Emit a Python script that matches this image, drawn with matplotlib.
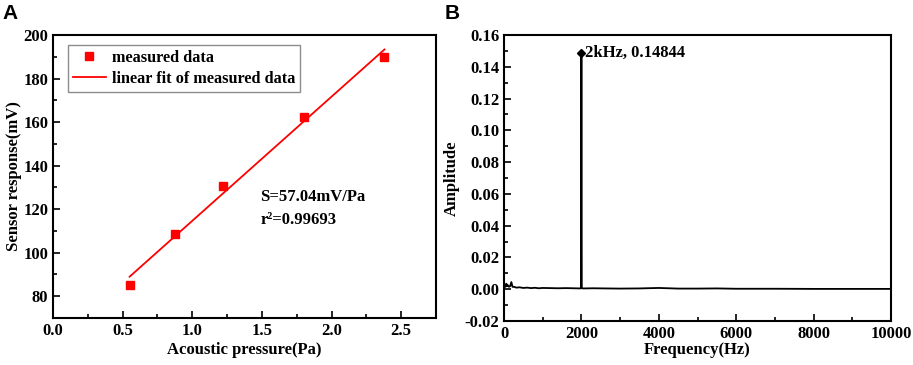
import numpy as np
import matplotlib.pyplot as plt
from matplotlib.ticker import MultipleLocator

# panel A: sensor response vs acoustic pressure
pressure = [0.55, 0.875, 1.22, 1.80, 2.38]  # [Pa]
response = [85.0, 108.5, 130.5, 162.5, 190.0]  # [mV]
slope = 57.04  # [mV/Pa]
intercept = 57.6  # [mV]
fit_range = [0.55, 2.38]

# panel B: spectrum (read by eye)
freq = [0, 20, 40, 60, 80, 100, 130, 160, 190, 220, 260, 320, 400, 500, 600, 700,
        800, 900, 1000, 1200, 1400, 1600, 1800, 1950, 1990, 2000, 2010, 2050, 2300,
        2600, 3000, 3500, 4000, 4500, 5000, 5500, 6000, 7000, 8000, 9000, 10000]
amp = [0.002, 0.003, 0.0015, 0.0035, 0.002, 0.0025, 0.0015, 0.002, 0.0045, 0.0015,
       0.0015, 0.001, 0.0012, 0.0008, 0.001, 0.0007, 0.0009, 0.0006, 0.0008, 0.0007,
       0.0006, 0.0007, 0.0006, 0.0005, 0.0006, 0.14844, 0.0006, 0.0005, 0.0006,
       0.0005, 0.0004, 0.0005, 0.0008, 0.0004, 0.0004, 0.0005, 0.0003, 0.0003,
       0.0002, 0.0002, 0.0002]
peak_f = 2000
peak_a = 0.14844

plt.rcParams['font.family'] = ['Liberation Serif', 'DejaVu Serif']
plt.rcParams['font.weight'] = 'bold'
plt.rcParams['axes.labelweight'] = 'bold'

fig = plt.figure(figsize=(9.13, 3.65), dpi=100)
ax1 = fig.add_axes([53/913, 1-318/365, 383/913, 283/365])
ax2 = fig.add_axes([504/913, 1-321/365, 387/913, 286/365])

# A
ax1.plot(pressure, response, 's', color='#ff0000', ms=5.5, label='measured data')
xf = np.array(fit_range)
ax1.plot(xf, slope*xf + intercept, '-', color='#ff0000', lw=1.3, label='linear fit of measured data')
ax1.set_xlim(0, 2.75)
ax1.set_ylim(70, 200)
ax1.xaxis.set_major_locator(MultipleLocator(0.5))
ax1.xaxis.set_minor_locator(MultipleLocator(0.25))
ax1.yaxis.set_major_locator(MultipleLocator(20))
ax1.yaxis.set_minor_locator(MultipleLocator(10))
ax1.set_yticks([80, 100, 120, 140, 160, 180, 200])
ax1.set_xlabel('Acoustic pressure(Pa)', fontsize=12, labelpad=2)
ax1.set_ylabel('Sensor response(mV)', fontsize=12, labelpad=1)
leg = ax1.legend(loc='upper left', bbox_to_anchor=(0.04, 0.965), fontsize=11.7, frameon=True,
                 fancybox=False, edgecolor='#707070', handlelength=2.0, borderpad=0.3,
                 labelspacing=0.3, handletextpad=0.4, borderaxespad=0)
leg.get_frame().set_linewidth(1.0)
ax1.text(1.49, 125.5, 'S=57.04mV/Pa', fontsize=12, fontweight='bold', va='center')
ax1.text(1.49, 115.0, 'r²=0.99693', fontsize=12, fontweight='bold', va='center')
fig.text(0.003, 0.99, 'A', family='Liberation Sans', fontsize=15, fontweight='bold', va='top')

# B
ax2.plot(freq, amp, '-', color='black', lw=1.3)
ax2.plot([peak_f], [peak_a], 'D', color='black', ms=4)
ax2.text(peak_f + 90, peak_a, '2kHz, 0.14844', fontsize=12, fontweight='bold', va='center')
ax2.set_xlim(0, 10000)
ax2.set_ylim(-0.02, 0.16)
ax2.xaxis.set_major_locator(MultipleLocator(2000))
ax2.xaxis.set_minor_locator(MultipleLocator(1000))
ax2.yaxis.set_major_locator(MultipleLocator(0.02))
ax2.yaxis.set_minor_locator(MultipleLocator(0.01))
ax2.yaxis.set_major_formatter(plt.FormatStrFormatter('%.2f'))
ax2.set_xlabel('Frequency(Hz)', fontsize=12, labelpad=0)
ax2.set_ylabel('Amplitude', fontsize=12, labelpad=3)
fig.text(0.495, 0.99, 'B', family='Liberation Sans', fontsize=15, fontweight='bold', va='top', ha='center')

for ax in (ax1, ax2):
    for s in ax.spines.values():
        s.set_linewidth(1.5)
    ax.tick_params(which='both', direction='in', top=False, right=False, labelsize=12, width=1.2)
    ax.tick_params(which='major', length=5)
    ax.tick_params(which='minor', length=3)
    for lbl in ax.get_xticklabels() + ax.get_yticklabels():
        lbl.set_fontweight('bold')

fig.savefig('out.png', dpi=100)
